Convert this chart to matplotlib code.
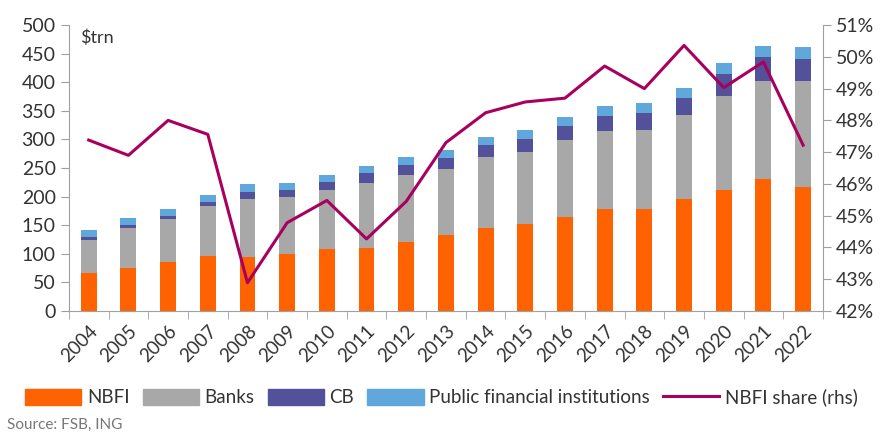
import numpy as np
import matplotlib.pyplot as plt
from matplotlib.lines import Line2D
from matplotlib.patches import Patch

plt.rcParams['font.family'] = ['Liberation Sans Narrow', 'Lato', 'DejaVu Sans']

years = [str(y) for y in range(2004, 2023)]

# stacked totals ($trn)
nbfi_top  = [66, 75, 86, 96, 94, 99, 108, 111, 121, 133, 145, 152, 164, 178, 178, 196, 211, 231, 217]
banks_top = [125, 145, 161, 183, 196, 200, 211, 224, 238, 249, 270, 278, 299, 314, 317, 343, 376, 402, 402]
cb_top    = [129, 150, 167, 191, 208, 211, 225, 241, 256, 267, 290, 300, 324, 341, 346, 373, 414, 444, 441]
pfi_top   = [141, 162, 179, 203, 222, 224, 238, 253, 269, 282, 304, 316, 340, 359, 363, 390, 433, 463, 461]

nbfi_share = [47.38, 46.9, 48.0, 47.56, 42.89, 44.78, 45.48, 44.27, 45.45, 47.3,
              48.24, 48.58, 48.7, 49.71, 49.0, 50.36, 49.03, 49.84, 47.22]

nbfi = np.array(nbfi_top)
banks = np.array(banks_top) - np.array(nbfi_top)
cb = np.array(cb_top) - np.array(banks_top)
pfi = np.array(pfi_top) - np.array(cb_top)

c_nbfi = '#FF6200'
c_banks = '#A8A8A8'
c_cb = '#525199'
c_pfi = '#60A8DC'
c_line = '#A8005E'
txt = '#333333'
axc = '#A0A0A0'

fig = plt.figure(figsize=(8.83, 4.32), dpi=100)
ax = fig.add_axes([0.078, 0.280, 0.854, 0.662])
x = np.arange(len(years))
w = 0.4
ax.bar(x, nbfi, w, color=c_nbfi)
ax.bar(x, banks, w, bottom=nbfi, color=c_banks)
ax.bar(x, cb, w, bottom=nbfi + banks, color=c_cb)
ax.bar(x, pfi, w, bottom=nbfi + banks + cb, color=c_pfi)

ax.set_ylim(0, 500)
ax.set_yticks(range(0, 501, 50))
ax.set_xlim(-0.5, len(years) - 0.5)
ax.set_xticks(x)
ax.set_xticklabels(years, rotation=45, ha='right', rotation_mode='anchor')
ax.set_xticks(np.arange(-0.5, len(years), 1), minor=True)
ax.tick_params(axis='x', which='major', length=0, pad=8, labelsize=13.5, colors=txt)
ax.tick_params(axis='x', which='minor', length=6, color=axc)
ax.tick_params(axis='y', length=6, color=axc, labelsize=14, labelcolor=txt)
for s in ['top', 'right']:
    ax.spines[s].set_visible(False)
for s in ['left', 'bottom']:
    ax.spines[s].set_color(axc)
ax.text(0.015, 0.985, '\\$trn', transform=ax.transAxes, fontsize=13, color=txt, va='top')

ax2 = ax.twinx()
ax2.plot(x, nbfi_share, color=c_line, lw=2.2)
ax2.set_ylim(42, 51)
ax2.set_yticks(range(42, 52))
ax2.set_yticklabels([f'{v}%' for v in range(42, 52)])
ax2.tick_params(axis='y', length=6, color=axc, labelsize=14, labelcolor=txt)
for s in ['top', 'left', 'bottom']:
    ax2.spines[s].set_visible(False)
ax2.spines['right'].set_color(axc)

handles = [Patch(color=c_nbfi), Patch(color=c_banks), Patch(color=c_cb), Patch(color=c_pfi),
           Line2D([], [], color=c_line, lw=2.2)]
labels = ['NBFI', 'Banks', 'CB', 'Public financial institutions', 'NBFI share (rhs)']
fig.legend(handles, labels, loc='lower center', bbox_to_anchor=(0.5, 0.02), ncol=5,
           frameon=False, fontsize=13.5, labelcolor=txt, handlelength=3.0, handleheight=0.9,
           columnspacing=0.7, handletextpad=0.3)

fig.text(0.008, 0.008, 'Source: FSB, ING', fontsize=11, color='#777777')

fig.savefig('out.png', dpi=100)
